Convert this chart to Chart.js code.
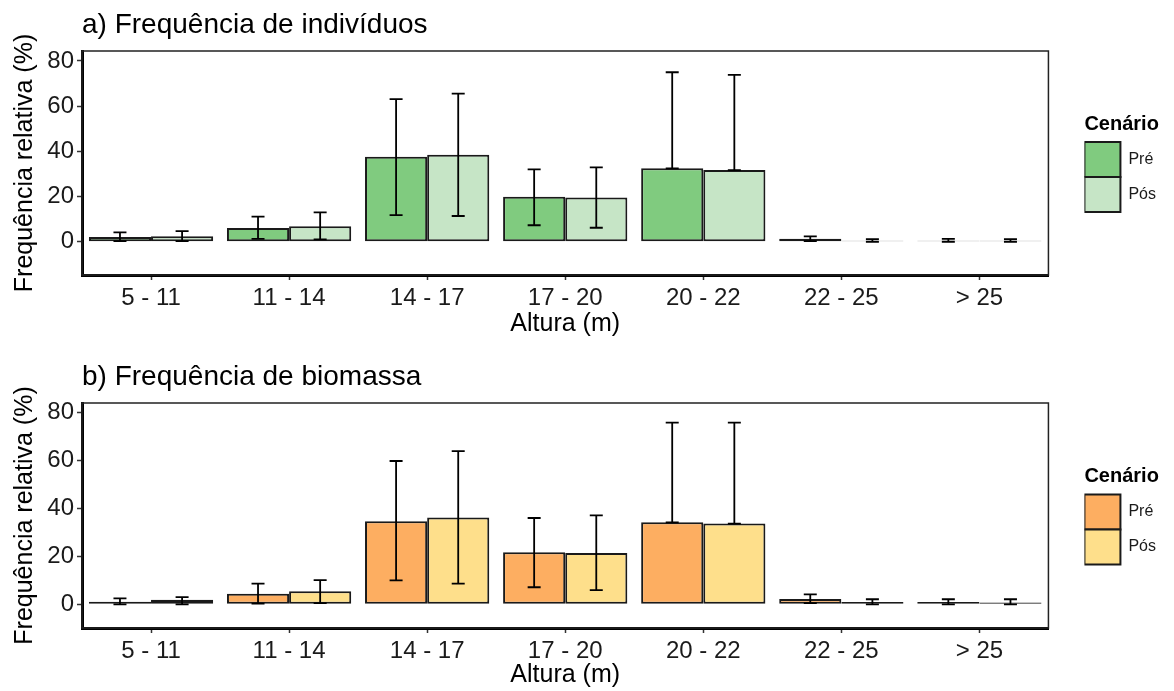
<!DOCTYPE html>
<html>
<head>
<meta charset="utf-8">
<script src="https://cdn.jsdelivr.net/npm/chart.js@4.4.1/dist/chart.umd.min.js"></script>
<style>
  body { margin: 0; background: #fff; }
  .painel { position: absolute; left: 0; width: 1174px; }
</style>
</head>
<body>
<div class="painel" style="top:0;height:345px"><canvas id="chart-individuos" width="1174" height="345"></canvas></div>
<div class="painel" style="top:345px;height:346px"><canvas id="chart-biomassa" width="1174" height="346"></canvas></div>
<script>
var categorias = ["5 - 11", "11 - 14", "14 - 17", "17 - 20", "20 - 22", "22 - 25", "> 25"];
var cenarios = ["Pré", "Pós"];
var yTicks = [0, 20, 40, 60, 80];

// a) frequencia de individuos (%)
var indPre    = [2.1, 6.1, 37.6, 19.9, 32.5, 1.3, 0.5];
var indPreSup = [4.2, 11.1, 63.1, 32.0, 75.0, 2.4, 1.3];
var indPreInf = [0.3, 1.3, 11.8, 7.3, 32.5, 0.3, 0.0];
var indPos    = [2.4, 6.9, 38.5, 19.6, 31.7, 0.5, 0.4];
var indPosSup = [4.7, 13.0, 65.5, 32.9, 73.8, 1.2, 1.2];
var indPosInf = [0.3, 1.1, 11.4, 6.2, 31.7, 0.0, 0.0];

// b) frequencia de biomassa (%)
var bioPre    = [1.1, 4.4, 34.7, 21.7, 34.2, 2.2, 1.0];
var bioPreSup = [2.5, 8.6, 59.8, 36.0, 75.8, 4.1, 2.1];
var bioPreInf = [0.0, 0.3, 10.0, 7.1, 34.2, 0.5, 0.0];
var bioPos    = [1.9, 5.4, 36.2, 21.4, 33.7, 1.0, 0.7];
var bioPosSup = [3.0, 10.1, 63.9, 37.1, 75.8, 2.1, 2.1];
var bioPosInf = [0.0, 0.5, 8.6, 5.9, 33.7, 0.0, 0.0];

var coresVerde = ["#80cb7f", "#c6e5c6"];
var coresLaranja = ["#fdae61", "#fedf8b"];

Chart.defaults.font.family = '"Liberation Sans", Arial, sans-serif';
Chart.defaults.color = "#1a1a1a";

// barras de erro (media +- dp)
var barrasErro = {
  id: "barrasErro",
  afterDatasetsDraw: function (chart) {
    var ctx = chart.ctx;
    var y = chart.scales.y;
    ctx.save();
    ctx.strokeStyle = "#000";
    ctx.lineWidth = 1.8;
    chart.data.datasets.forEach(function (ds, i) {
      chart.getDatasetMeta(i).data.forEach(function (bar, j) {
        var ySup = y.getPixelForValue(ds.errSup[j]);
        var yInf = y.getPixelForValue(ds.errInf[j]);
        var meia = 6.5;
        ctx.beginPath();
        ctx.moveTo(bar.x, ySup);
        ctx.lineTo(bar.x, yInf);
        ctx.moveTo(bar.x - meia, ySup);
        ctx.lineTo(bar.x + meia, ySup);
        ctx.moveTo(bar.x - meia, yInf);
        ctx.lineTo(bar.x + meia, yInf);
        ctx.stroke();
      });
    });
    // moldura do painel
    var a = chart.chartArea;
    ctx.lineWidth = 1.5;
    ctx.strokeStyle = "#222";
    ctx.strokeRect(a.left, a.top, a.right - a.left, a.bottom - a.top);
    ctx.restore();
  }
};

var tituloPainel = {
  id: "tituloPainel",
  afterDraw: function (chart, args, opts) {
    var ctx = chart.ctx;
    ctx.save();
    ctx.font = '28px "Liberation Sans", Arial, sans-serif';
    ctx.fillStyle = "#000";
    ctx.textBaseline = "alphabetic";
    ctx.fillText(opts.text, chart.chartArea.left, opts.y);
    ctx.restore();
  }
};

function createPainel(id, titulo, tituloY, pre, preSup, preInf, pos, posSup, posInf, cores, yMin, yMax, topo, alturaX, padTituloX) {
  new Chart(id, {
    type: "bar",
    data: {
      labels: categorias,
      datasets: [{
        label: cenarios[0],
        data: pre,
        errSup: preSup,
        errInf: preInf,
        backgroundColor: cores[0],
        borderColor: "#1a1a1a",
        borderWidth: 2,
        borderSkipped: false
      }, {
        label: cenarios[1],
        data: pos,
        errSup: posSup,
        errInf: posInf,
        backgroundColor: cores[1],
        borderColor: "#1a1a1a",
        borderWidth: 2,
        borderSkipped: false
      }]
    },
    options: {
      responsive: false,
      devicePixelRatio: 1,
      animation: false,
      categoryPercentage: 0.9,
      barPercentage: 1.0,
      layout: { padding: { top: topo, left: 0, right: 8, bottom: 0 } },
      plugins: {
        tooltip: { enabled: false },
        tituloPainel: { text: titulo, y: tituloY },
        legend: {
          position: "right",
          align: "center",
          fullSize: false,
          title: {
            display: true,
            text: "Cenário",
            position: "start",
            color: "#000",
            font: { size: 20, weight: "bold" },
            padding: { top: 0, bottom: 4 }
          },
          labels: {
            boxWidth: 36,
            boxHeight: 35,
            padding: 0,
            color: "#1a1a1a",
            font: { size: 16 }
          }
        }
      },
      scales: {
        x: {
          grid: { display: true, drawOnChartArea: false, offset: false, tickLength: 5, tickColor: "#333", tickWidth: 1.5 },
          border: { display: true, color: "#000", width: 3 },
          ticks: { font: { size: 24 }, color: "#1a1a1a", padding: 4, maxRotation: 0, autoSkip: false },
          title: { display: true, text: "Altura (m)", color: "#000", font: { size: 25 }, padding: { top: 0, bottom: padTituloX } },
          afterFit: function (s) { s.height = alturaX; }
        },
        y: {
          min: yMin,
          max: yMax,
          afterBuildTicks: function (s) { s.ticks = yTicks.map(function (v) { return { value: v }; }); },
          grid: { display: true, drawOnChartArea: false, tickLength: 5, tickColor: "#333", tickWidth: 1.5 },
          border: { display: true, color: "#000", width: 3 },
          ticks: { font: { size: 24 }, color: "#1a1a1a", padding: 3 },
          title: { display: true, text: "Frequência relativa (%)", color: "#000", font: { size: 25 }, padding: { top: 10, bottom: 0 } },
          afterFit: function (s) { s.width = 82; }
        },
        espaco: {
          type: "linear",
          position: "right",
          display: true,
          grid: { display: false },
          border: { display: false },
          ticks: { display: false },
          afterFit: function (s) { s.width = 36; }
        }
      }
    },
    plugins: [barrasErro, tituloPainel]
  });
}

createPainel("chart-individuos", "a) Frequência de indivíduos", 33,
  indPre, indPreSup, indPreInf, indPos, indPosSup, indPosInf,
  coresVerde, -14.7, 84.4, 51, 70, 6);
createPainel("chart-biomassa", "b) Frequência de biomassa", 40,
  bioPre, bioPreSup, bioPreInf, bioPos, bioPosSup, bioPosInf,
  coresLaranja, -9.9, 84.0, 58, 63, 1);
</script>
</body>
</html>
